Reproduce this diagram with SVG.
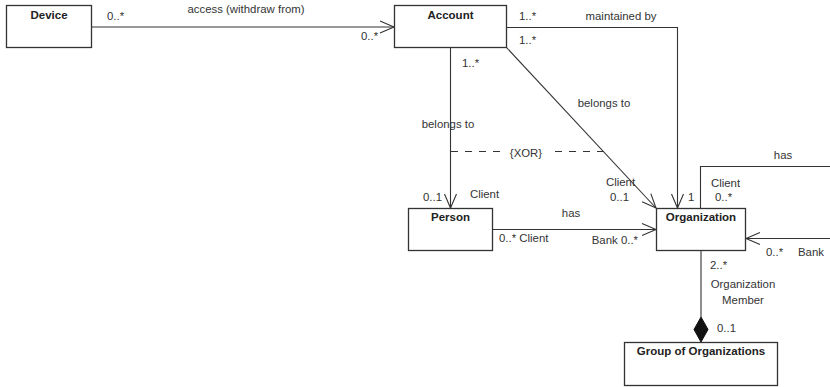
<svg xmlns="http://www.w3.org/2000/svg" width="830" height="387" viewBox="0 0 830 387">
<style>
.box{fill:#fff;stroke:#333;stroke-width:1.3}
.title{font-family:"Liberation Sans",Arial,sans-serif;font-size:11.5px;font-weight:bold;fill:#222;text-anchor:middle}
.lbl{font-family:"Liberation Sans",Arial,sans-serif;font-size:11.4px;fill:#333}
.ln{fill:none;stroke:#333;stroke-width:1.1}
.dash{fill:none;stroke:#333;stroke-width:1.1;stroke-dasharray:7,7}
</style>
<defs>
<marker id="open" markerUnits="userSpaceOnUse" markerWidth="16" markerHeight="14" refX="14" refY="6" orient="auto" overflow="visible">
<path d="M0,0 L14,6 L0,12" fill="none" stroke="#333" stroke-width="1.1"/>
</marker>
</defs>
<g id="connectors">
<line class="ln" x1="91.5" y1="27" x2="394" y2="27" marker-end="url(#open)"/>
<polyline class="ln" points="506.5,27.5 677.5,27.5 677.5,208" marker-end="url(#open)"/>
<line class="ln" x1="450.5" y1="47.5" x2="450.5" y2="208" marker-end="url(#open)"/>
<line class="ln" x1="506.5" y1="47.5" x2="656" y2="208" marker-end="url(#open)"/>
<line class="dash" x1="451" y1="151.5" x2="500" y2="151.5"/>
<line class="dash" x1="555" y1="151.5" x2="604" y2="151.5"/>
<line class="ln" x1="492.5" y1="229.5" x2="656" y2="229.5" marker-end="url(#open)"/>
<polyline class="ln" points="700.5,208.5 700.5,166.5 830,166.5"/>
<line class="ln" x1="830" y1="238.5" x2="746" y2="238.5" marker-end="url(#open)"/>
<line class="ln" x1="701" y1="250.5" x2="701" y2="317"/>
<polygon points="701,317 708,329.5 701,342 694,329.5" fill="#111" stroke="#111" stroke-width="1"/>
<text class="lbl" x="246" y="13" text-anchor="middle">access (withdraw from)</text>
<text class="lbl" x="107" y="20">0..*</text>
<text class="lbl" x="361" y="40">0..*</text>
<text class="lbl" x="519" y="20">1..*</text>
<text class="lbl" x="621" y="20" text-anchor="middle">maintained by</text>
<text class="lbl" x="519" y="44">1..*</text>
<text class="lbl" x="462" y="67">1..*</text>
<text class="lbl" x="448" y="128" text-anchor="middle">belongs to</text>
<text class="lbl" x="604" y="107" text-anchor="middle">belongs to</text>
<text class="lbl" x="526" y="157" text-anchor="middle">{XOR}</text>
<text class="lbl" x="423" y="201">0..1</text>
<text class="lbl" x="470" y="198">Client</text>
<text class="lbl" x="606" y="186">Client</text>
<text class="lbl" x="610" y="201">0..1</text>
<text class="lbl" x="688" y="201">1</text>
<text class="lbl" x="571" y="217" text-anchor="middle">has</text>
<text class="lbl" x="499" y="242">0..* Client</text>
<text class="lbl" x="638" y="244" text-anchor="end">Bank 0..*</text>
<text class="lbl" x="783" y="159" text-anchor="middle">has</text>
<text class="lbl" x="711" y="187">Client</text>
<text class="lbl" x="715" y="201">0..*</text>
<text class="lbl" x="766" y="256">0..*</text>
<text class="lbl" x="798" y="256">Bank</text>
<text class="lbl" x="710" y="269">2..*</text>
<text class="lbl" x="743" y="288" text-anchor="middle">Organization</text>
<text class="lbl" x="743" y="304" text-anchor="middle">Member</text>
<text class="lbl" x="717" y="332">0..1</text>
</g>
<g id="device">
<rect class="box" x="6.5" y="5.5" width="85" height="42"/>
<text class="title" x="49" y="19">Device</text>
</g>
<g id="account">
<rect class="box" x="394.5" y="5.5" width="112" height="42"/>
<text class="title" x="450.5" y="19">Account</text>
</g>
<g id="person">
<rect class="box" x="408.5" y="208.5" width="84" height="42"/>
<text class="title" x="450.5" y="221">Person</text>
</g>
<g id="organization">
<rect class="box" x="656.5" y="208.5" width="89" height="42"/>
<text class="title" x="701" y="221">Organization</text>
</g>
<g id="group">
<rect class="box" x="624.5" y="342.5" width="153" height="43"/>
<text class="title" x="701" y="355">Group of Organizations</text>
</g>
</svg>
